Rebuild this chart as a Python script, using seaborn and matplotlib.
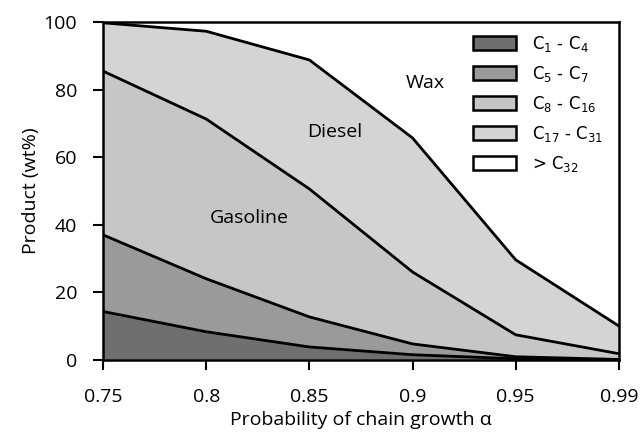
import numpy as np
import pandas as pd
import matplotlib
matplotlib.use("Agg")
import matplotlib.pyplot as plt
import seaborn as sns
from matplotlib.patches import Patch

alpha_labels = ["0.75", "0.8", "0.85", "0.9", "0.95", "0.99"]
# cumulative tops (wt%)
top_c1_c4 = [14.3, 8.3, 3.8, 1.5, 0.3, 0.0]
top_c5_c7 = [37.0, 24.0, 12.7, 4.7, 0.9, 0.1]
top_c8_c16 = [85.5, 71.3, 50.6, 26.0, 7.4, 1.8]
top_c17_c31 = [99.8, 97.3, 88.8, 65.7, 29.6, 10.0]
top_all = [100, 100, 100, 100, 100, 100]

series_labels = [r"C$_1$ - C$_4$", r"C$_5$ - C$_7$", r"C$_8$ - C$_{16}$",
                 r"C$_{17}$ - C$_{31}$", r"> C$_{32}$"]
colors = ["#6f6f6f", "#9a9a9a", "#c6c6c6", "#d4d4d4", "#ffffff"]

sns.set_style("ticks")
plt.rcParams["font.family"] = ["Open Sans", "DejaVu Sans"]
plt.rcParams["text.color"] = "black"
plt.rcParams["axes.labelcolor"] = "black"
plt.rcParams["xtick.color"] = "black"
plt.rcParams["ytick.color"] = "black"

fig, ax = plt.subplots(figsize=(6.4, 4.34), dpi=100)
fig.subplots_adjust(left=0.161, right=0.967, top=0.949, bottom=0.171)

x = np.arange(len(alpha_labels))
tops = [top_c1_c4, top_c5_c7, top_c8_c16, top_c17_c31, top_all]
prev = np.zeros(len(x))
for t, c, lab in zip(tops, colors, series_labels):
    t = np.array(t, dtype=float)
    ax.fill_between(x, prev, t, facecolor=c, edgecolor="none", label=lab, zorder=1)
    prev = t

df = pd.DataFrame({"x": np.tile(x, 4),
                   "y": np.concatenate([top_c1_c4, top_c5_c7, top_c8_c16, top_c17_c31]),
                   "s": np.repeat(["a", "b", "c", "d"], len(x))})
sns.lineplot(data=df, x="x", y="y", units="s", estimator=None, color="black",
             linewidth=2, ax=ax, legend=False, zorder=3)

leg_handles = [Patch(facecolor=c, edgecolor="black", linewidth=1.8, label=l)
               for c, l in zip(colors, series_labels)]
leg = ax.legend(handles=leg_handles, loc="upper left", bbox_to_anchor=(0.717, 0.965),
                frameon=False,
                prop={"family": "DejaVu Sans", "size": 12},
                handlelength=2.57, handleheight=0.9, borderpad=0.0, labelspacing=0.6,
                handletextpad=0.95, borderaxespad=0.0)

ax.text(3.12, 82, "Wax", fontsize=14, ha="center", va="center")
ax.text(2.25, 67.5, "Diesel", fontsize=14, ha="center", va="center")
ax.text(1.42, 42, "Gasoline", fontsize=14, ha="center", va="center")

ax.set_xlim(0, len(x) - 1)
ax.set_ylim(0, 100)
ax.set_xticks(x)
ax.set_xticklabels(alpha_labels)
ax.set_yticks([0, 20, 40, 60, 80, 100])
ax.tick_params(axis="both", labelsize=14, direction="out", length=7.2, width=1.5,
               color="black")
ax.tick_params(axis="x", pad=13)
ax.tick_params(axis="y", pad=11.5)
ax.set_xlabel("Probability of chain growth α", fontsize=14, labelpad=4)
ax.set_ylabel("Product (wt%)", fontsize=14, labelpad=2.5)
for sp in ax.spines.values():
    sp.set_visible(True)
    sp.set_linewidth(1.8)
    sp.set_color("black")
    sp.set_zorder(5)

fig.savefig("out.png", dpi=100)
